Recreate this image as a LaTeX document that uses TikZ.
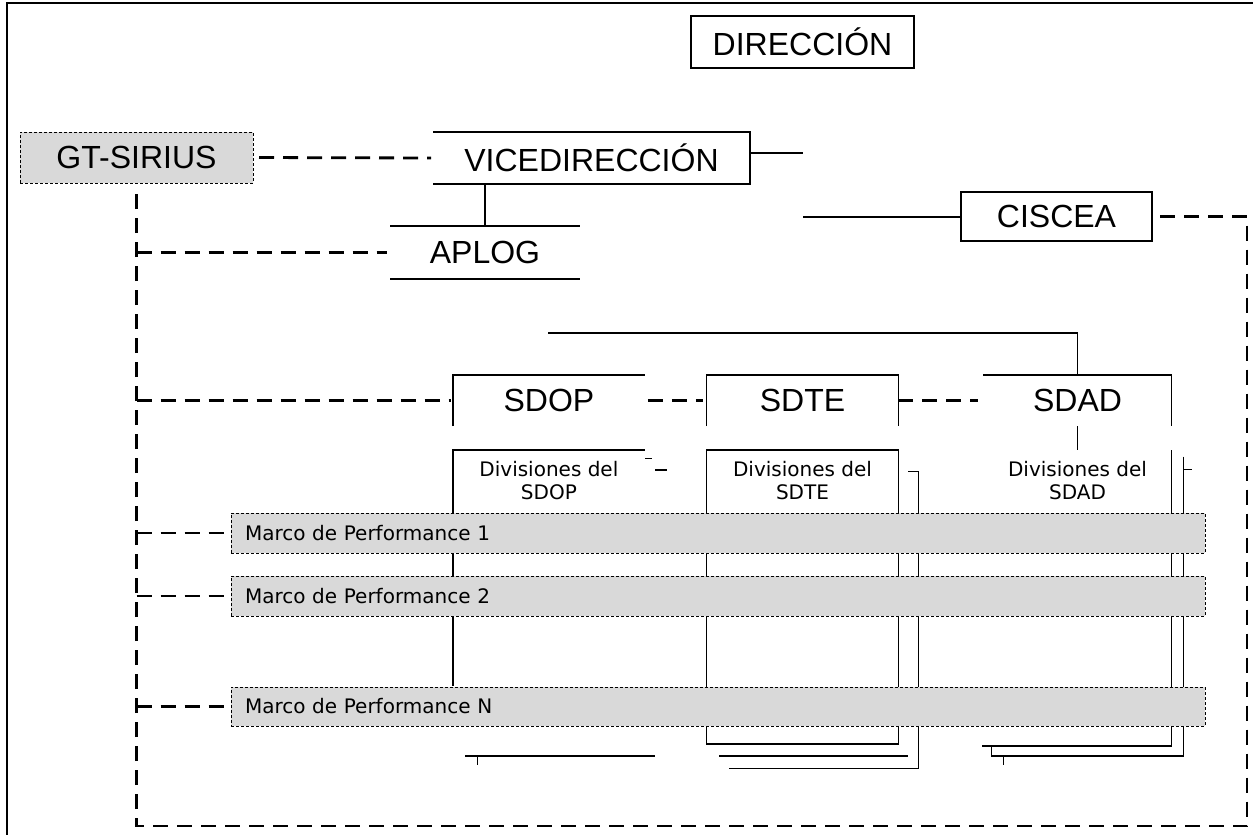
\documentclass[tikz,border=0pt]{standalone}
\usepackage{fontspec}
\setmainfont{Liberation Sans}
\newfontfamily\smallfam{DejaVu Sans}
\begin{document}
\begin{tikzpicture}[x=1pt,y=-1pt,
  big/.style={font=\fontsize{32}{36}\selectfont, inner sep=0pt, outer sep=0pt},
  small/.style={font=\smallfam\fontsize{20}{23}\selectfont, align=center, inner sep=0pt, outer sep=0pt},
  solidline/.style={line width=1.4pt},
  heavydash/.style={line width=2.8pt, dash pattern=on 15pt off 9pt},
  graybox/.style={fill=black!15, draw=black, line width=0.9pt, dash pattern=on 3pt off 2pt},
  marco/.style={graybox, font=\smallfam\fontsize{20}{23}\selectfont, minimum width=974pt,
    text width=946pt, inner xsep=14pt, inner ysep=0pt, align=left, outer sep=0pt}
]
\useasboundingbox (0,0) rectangle (1253,835);
% outer frame
\draw[line width=1.2pt] (7,835) -- (7,3) -- (1253,3);

% top nodes
\node[big, draw, line width=1.4pt, minimum width=223pt, minimum height=52pt] (dir) at (802.5,42) {DIRECCIÓN};
\node[big, graybox, minimum width=233pt, minimum height=51pt] (gt) at (136.5,157.5) {GT-SIRIUS};
\node[big, minimum width=317pt, minimum height=52pt] (vice) at (591.5,158) {VICEDIRECCIÓN};
\node[big, minimum width=190pt, minimum height=53pt] (aplog) at (485,252.5) {APLOG};
\node[big, draw, line width=1.4pt, minimum width=191pt, minimum height=49pt] (ciscea) at (1056.5,216.5) {CISCEA};

\draw[solidline] (vice.north west) -- (vice.north east) -- (vice.south east) -- (vice.south west);
\draw[solidline] (aplog.north west) -- (aplog.north east);
\draw[solidline] (aplog.south west) -- (aplog.south east);

% second level
\node[big, minimum width=192pt, minimum height=51pt] (sdop) at (548.9,400.5) {SDOP};
\node[big, minimum width=191.6pt, minimum height=51pt] (sdte) at (802.5,400.5) {SDTE};
\node[big, minimum width=188.4pt, minimum height=51pt] (sdad) at (1077.5,400.5) {SDAD};
\draw[solidline] (sdop.south west) -- (sdop.north west) -- (sdop.north east);
\draw[solidline] (sdte.south west) -- (sdte.north west) -- (sdte.north east) -- (sdte.south east);
\draw[solidline] (sdad.north west) -- (sdad.north east) -- (sdad.south east);

% divisiones
\node[small, minimum width=192pt, minimum height=62pt] (dop) at (548.9,481) {Divisiones del\\SDOP};
\node[small, minimum width=191.6pt, minimum height=62pt] (dte) at (802.5,481) {Divisiones del\\SDTE};
\node[small, minimum width=188.4pt, minimum height=62pt] (dad) at (1077.5,481) {Divisiones del\\SDAD};

% coordinates
\coordinate (vend) at (803,153);
\coordinate (cstart) at (803,217);
\coordinate (tl) at (548,333);
\coordinate (br) at (1247,826);
\coordinate (dtebot) at (898.3,744);

% solid connectors
\draw[solidline] (vend -| vice.east) -- (vend);
\draw[solidline] (cstart) -- (cstart -| ciscea.west);
\draw[solidline] (aplog.north) -- (aplog.north |- vice.south);
\draw[solidline] (tl) -- (tl -| sdad.north) -- (sdad.north);
\draw[solidline] (sdad.south) -- (dad.north);

% division structures (behind marco boxes)
\draw[solidline] (dop.north east) -- (dop.north west) -- (452.9,686);
\draw[solidline] (645,458.3) -- (651.7,458.3);
\draw[solidline] (655,470) -- (666.7,470);
\draw[solidline] (465,756) -- (655,756);
\draw[solidline] (477.3,756) -- (477.3,765);

\draw[solidline] (dte.north west) rectangle (dtebot);
\draw[solidline] (908.3,471.7) -- (918.3,471.7) -- (918.3,768.3) -- (729.3,768.3);
\draw[solidline] (719.3,756) -- (908.3,756);

\draw[solidline] (dad.north east) -- (1171.7,746) -- (981.7,746);
\draw[solidline] (1183.3,456.7) -- (1183.3,756) -- (991.7,756) -- (991.7,746);
\draw[solidline] (1003.3,756) -- (1003.3,765);
\draw[solidline] (1183.3,469.3) -- (1192.3,469.3);

% marco boxes
\node[marco, minimum height=40pt] (m1) at (718,533) {Marco de Performance 1};
\node[marco, minimum height=40pt] (m2) at (718,596) {Marco de Performance 2};
\node[marco, minimum height=39pt] (mn) at (718,706.5) {Marco de Performance N};

% dashed connectors
\draw[heavydash, shorten <=6pt, shorten >=2pt] (gt.east) -- (vice.west);
\draw[heavydash, shorten <=8pt, shorten >=5pt] (ciscea.east) -- (ciscea.east -| br) -- (br) -- (br -| gt.south) -- (gt.south);
\draw[heavydash, shorten >=3pt] (gt.south |- aplog.west) -- (aplog.west);
\draw[heavydash, shorten >=2pt] (gt.south |- sdop.west) -- (sdop.west);
\draw[heavydash, shorten <=3pt, shorten >=4pt] (sdop.east) -- (sdte.west);
\draw[heavydash, shorten >=5pt] (sdte.east) -- (sdad.west);
\draw[heavydash] (gt.south |- m1.west) -- (m1.west);
\draw[heavydash] (gt.south |- m2.west) -- (m2.west);
\draw[heavydash] (gt.south |- mn.west) -- (mn.west);
\end{tikzpicture}
\end{document}
